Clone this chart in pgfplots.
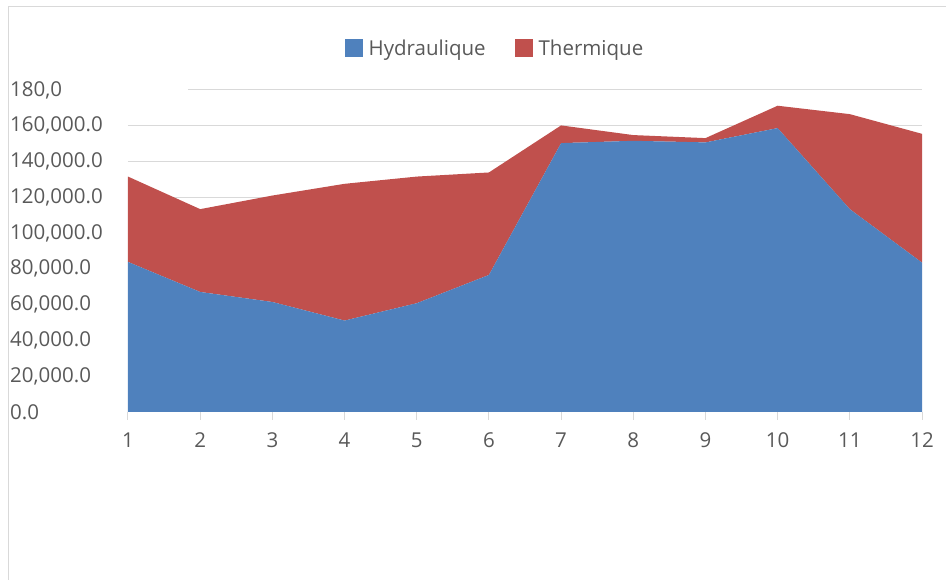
\documentclass[border=0pt]{standalone}
\usepackage{pgfplots}
\pgfplotsset{compat=1.18}
\usepackage{fontspec}
\setmainfont{Open Sans}
\definecolor{hyd}{HTML}{4F81BD}
\definecolor{the}{HTML}{C0504D}
\definecolor{txt}{HTML}{595959}
\definecolor{grd}{HTML}{D9D9D9}
\begin{document}
\begin{tikzpicture}[x=1pt,y=1pt]
\useasboundingbox (-128,-168) rectangle (818,412);
\begin{axis}[
  at={(0,0)}, anchor=south west,
  scale only axis, width=794pt, height=322pt,
  xmin=1, xmax=12, ymin=0, ymax=180000,
  stack plots=y,
  axis line style={draw=none},
  xtick={1,...,12}, ytick={0,20000,...,180000},
  xtick pos=bottom, tick align=outside,
  major tick length=8pt,
  xtick style={draw=grd, line width=1pt},
  ytick style={draw=none},
  ymajorgrids, grid style={draw=grd, line width=1pt},
  scaled y ticks=false,
  /pgf/number format/assume math mode=true,
  yticklabel={\pgfmathprintnumber[fixed,fixed zerofill,precision=1,1000 sep={,}]{\tick}},
  yticklabel style={anchor=west, inner sep=0pt, xshift=-110pt, font=\fontsize{20.5}{24}\selectfont, text=txt},
  xticklabel style={font=\fontsize{20.5}{24}\selectfont, text=txt, yshift=-9pt},
  legend style={at={(axis description cs:0.4622,1.130)}, anchor=center, draw=none, fill=none,
     legend columns=2, font=\fontsize{20.5}{24}\selectfont, text=txt,
     /tikz/every even column/.append style={column sep=27pt}},
  legend image code/.code={\fill[#1] (0pt,-9pt) rectangle (18pt,9pt); \path (22pt,0pt);},
]
\addplot[fill=hyd, draw=none] coordinates {
(1,83900) (2,67100) (3,61500) (4,51100) (5,60800) (6,76600)
(7,150300) (8,151600) (9,150700) (10,158700) (11,113400) (12,83500)
} \closedcycle;
\addlegendentry{Hydraulique}
\addplot[fill=the, draw=none] coordinates {
(1,47700) (2,46300) (3,59500) (4,76450) (5,70800) (6,57300)
(7,9900) (8,3200) (9,2400) (10,12500) (11,53100) (12,72000)
} \closedcycle;
\addlegendentry{Thermique}
\draw[grd, line width=1pt] (axis cs:1,0) -- (axis cs:12,0);
\end{axis}
\fill[white] (-65,314) rectangle (60,331);
\draw[grd, line width=1pt] (-119,-168) -- (-119,405) -- (818,405);
\end{tikzpicture}
\end{document}
